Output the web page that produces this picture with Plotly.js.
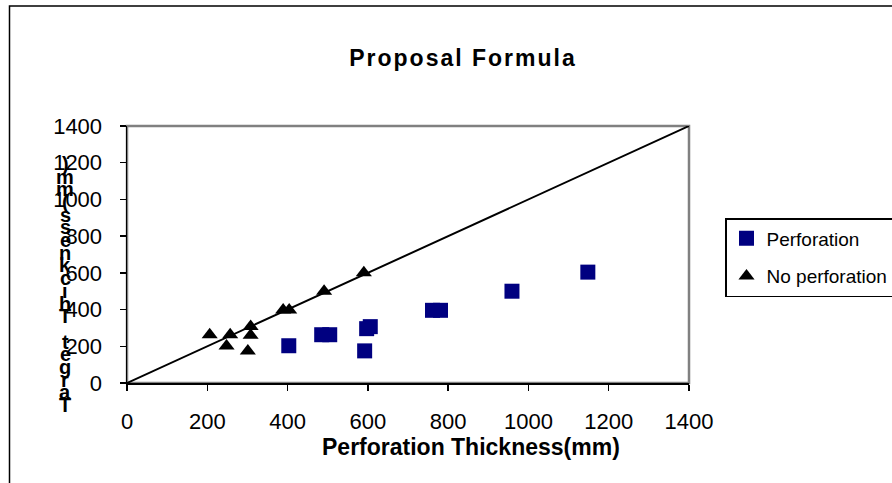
<!DOCTYPE html>
<html>
<head>
<meta charset="utf-8">
<script src="https://cdn.plot.ly/plotly-3.0.1.min.js"></script>
<style>
  html, body { margin: 0; padding: 0; background: #ffffff; }
  #chart { width: 892px; height: 483px; }
  .gtitle { letter-spacing: 2px; }
</style>
</head>
<body>
<div id="chart"></div>
<script>
// ---- data ----
const chartTitle = "Proposal Formula";
const xTitle = "Perforation Thickness(mm)";
const yTitle = "Target Thickness(mm)";
const tickVals = [0, 200, 400, 600, 800, 1000, 1200, 1400];

const perfName = "Perforation";
const perfX = [403, 485, 505, 592, 597, 606, 761, 781, 959, 1148];
const perfY = [203, 263, 263, 175, 296, 307, 396, 396, 500, 604];

const noPerfName = "No perforation";
const noPerfX = [206, 257, 248, 308, 308, 301, 389, 404, 491, 590];
const noPerfY = [263, 263, 201, 308, 260, 174, 397, 397, 500, 600];

const lineX = [0, 1400];
const lineY = [0, 1400];

// ---- geometry helpers ----
const W = 892, H = 483;
const M = { l: 127, r: 203, t: 126, b: 100 };
const plotW = W - M.l - M.r, plotH = H - M.t - M.b;
const pxToPaperX = px => (px - M.l) / plotW;
const pxToPaperY = py => (H - M.b - py) / plotH;

const FONT = '"Liberation Sans", Arial, sans-serif';

const traces = [
  {
    x: lineX, y: lineY, type: 'scatter', mode: 'lines',
    line: { color: '#000000', width: 2 },
    showlegend: false, hoverinfo: 'skip'
  },
  {
    x: perfX, y: perfY, type: 'scatter', mode: 'markers', name: perfName,
    legendgroup: 'a',
    marker: { symbol: 'square', size: 15, color: '#000080' }
  },
  {
    x: noPerfX, y: noPerfY, type: 'scatter', mode: 'markers', name: noPerfName,
    legendgroup: 'b',
    marker: { symbol: 'triangle-up', size: 14, color: '#000000' }
  }
];

// stacked, reversed y-axis title characters (as in the reference rendering)
const yChars = yTitle.split('').reverse();
const yTop = 164, yBottom = 405;
const annotations = yChars.map((ch, i) => ({
  text: ch === ' ' ? '&nbsp;' : ch,
  xref: 'paper', yref: 'paper',
  x: pxToPaperX(65),
  y: pxToPaperY(yTop + i * (yBottom - yTop) / (yChars.length - 1)),
  xanchor: 'center', yanchor: 'middle',
  showarrow: false,
  font: { family: FONT, size: 20, color: '#000000', weight: 'bold' }
}));
annotations.push({
  text: '<b>' + xTitle + '</b>',
  xref: 'paper', yref: 'paper',
  x: pxToPaperX(471), y: pxToPaperY(447),
  xanchor: 'center', yanchor: 'middle', showarrow: false,
  font: { family: FONT, size: 23, color: '#000000' }
});

const layout = {
  width: W, height: H,
  margin: M,
  paper_bgcolor: '#ffffff', plot_bgcolor: '#ffffff',
  title: {
    text: '<b>' + chartTitle + '</b>',
    font: { family: FONT, size: 23, color: '#000000' },
    xref: 'container', x: 463 / W, xanchor: 'center',
    yref: 'container', y: 1 - 58 / H, yanchor: 'middle'
  },
  xaxis: {
    range: [0, 1400], tickvals: tickVals, ticktext: tickVals.map(String),
    showgrid: false, zeroline: false,
    showline: true, linecolor: '#000000', linewidth: 1.5,
    ticks: 'outside', ticklen: 6, tickcolor: '#000000', tickwidth: 1.5,
    ticklabelstandoff: 12,
    tickfont: { family: FONT, size: 22, color: '#000000' },
    fixedrange: true
  },
  yaxis: {
    range: [0, 1400], tickvals: tickVals, ticktext: tickVals.map(String),
    showgrid: false, zeroline: false,
    showline: true, linecolor: '#000000', linewidth: 1.5,
    ticks: 'outside', ticklen: 6, tickcolor: '#000000', tickwidth: 1.5,
    ticklabelstandoff: 13,
    tickfont: { family: FONT, size: 22, color: '#000000' },
    fixedrange: true
  },
  showlegend: true,
  legend: {
    xref: 'container', yref: 'container',
    x: 725 / W, xanchor: 'left',
    y: 1 - 218 / H, yanchor: 'top',
    bgcolor: '#ffffff', bordercolor: '#000000', borderwidth: 1.5,
    font: { family: FONT, size: 19, color: '#000000' },
    traceorder: 'grouped', tracegroupgap: 10
  },
  shapes: [
    { type: 'rect', xref: 'paper', yref: 'paper', x0: 0, x1: 1, y0: 0, y1: 1,
      line: { color: '#808080', width: 2.5 }, layer: 'below' },
    { type: 'rect', xref: 'paper', yref: 'paper',
      x0: pxToPaperX(9.5), x1: pxToPaperX(W + 20),
      y0: pxToPaperY(H + 20), y1: pxToPaperY(6),
      line: { color: '#000000', width: 1.5 }, layer: 'below' }
  ],
  annotations: annotations
};

Plotly.newPlot('chart', traces, layout, { displayModeBar: false, staticPlot: true });
</script>
</body>
</html>
